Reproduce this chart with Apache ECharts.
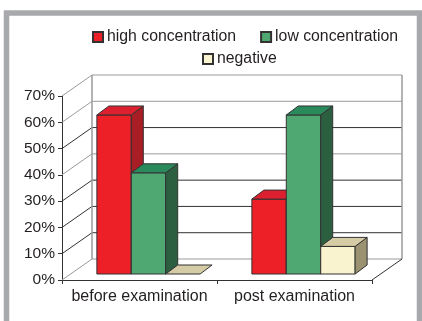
<!DOCTYPE html>
<html>
<head>
<meta charset="utf-8">
<title>concentration</title>
<style>
html,body{margin:0;padding:0;background:#fff;}
#chart{width:422px;height:321px;}
</style>
<script src="https://cdn.jsdelivr.net/npm/echarts@6/dist/echarts.min.js"></script>
</head>
<body>
<div id="chart"></div>
<script>
var categories = ['before examination', 'post examination'];
var highConcentration = [60.5, 28.5];
var lowConcentration = [38.5, 60.5];
var negative = [0, 10.5];
var yTicks = [0, 10, 20, 30, 40, 50, 60, 70];

var textColor = '#231f20';
var lineDark = '#333132';
var lineGray = '#9a9a9c';
var fontName = '"Liberation Sans", Arial, sans-serif';

// wall and floor lines, one item per tick
function renderWall(params, api) {
    var v = api.value(0);
    var cs = params.coordSys;
    var y = api.coord([0, v])[1];
    var dx = 30, dy = -21;
    var left = cs.x, right = cs.x + cs.width;
    var color = (v === 0 || v === 70 || v === 60 || v === 40) ? lineGray : lineDark;
    var children = [
        {type: 'polyline', shape: {points: [[left, y], [left + dx, y + dy], [right + dx, y + dy]]},
            style: {fill: null, stroke: color, lineWidth: 1}}
    ];
    if (v === 0) {
        children.push({type: 'line', shape: {x1: right, y1: y, x2: right + dx, y2: y + dy},
            style: {stroke: lineDark, lineWidth: 1}});
    }
    if (v === 70) {
        var y0 = api.coord([0, 0])[1];
        children.push({type: 'line', shape: {x1: left + dx, y1: y + dy, x2: left + dx, y2: y0 + dy},
            style: {stroke: lineGray, lineWidth: 1.5}});
        children.push({type: 'line', shape: {x1: right + dx, y1: y + dy, x2: right + dx, y2: y0 + dy},
            style: {stroke: lineGray, lineWidth: 1.5}});
    }
    return {type: 'group', children: children};
}

function makeBarRenderer(slot, topColor, sideColor) {
    return function (params, api) {
        var top = api.coord([api.value(0), api.value(1)]);
        var base = api.coord([api.value(0), 0]);
        var w = api.size([1, 0])[0] * 0.222;
        var shiftX = 9, shiftY = -6, dx = 12, dy = -9;
        var x = top[0] + shiftX + (slot - 1.5) * w;
        var y1 = top[1] + shiftY;
        var y0 = base[1] + shiftY;
        var edge = {stroke: lineDark, lineWidth: 1, lineJoin: 'round'};
        var children = [];
        if (y0 > y1) {
            children.push({type: 'rect', shape: {x: x, y: y1, width: w, height: y0 - y1},
                style: Object.assign({fill: api.visual('color')}, edge)});
            children.push({type: 'polygon',
                shape: {points: [[x + w, y1], [x + w + dx, y1 + dy], [x + w + dx, y0 + dy], [x + w, y0]]},
                style: Object.assign({fill: sideColor}, edge)});
        }
        children.push({type: 'polygon',
            shape: {points: [[x, y1], [x + w, y1], [x + w + dx, y1 + dy], [x + dx, y1 + dy]]},
            style: Object.assign({fill: topColor}, edge)});
        return {type: 'group', children: children};
    };
}

function barData(values) {
    return values.map(function (v, i) { return [i, v]; });
}

function barSeries(name, values, slot, front, top, side) {
    return {
        name: name,
        type: 'custom',
        coordinateSystem: 'cartesian2d',
        clip: false,
        z: 3,
        itemStyle: {color: front, borderColor: lineDark, borderWidth: 1},
        encode: {x: 0, y: 1},
        renderItem: makeBarRenderer(slot, top, side),
        data: barData(values)
    };
}

var legendText = {color: textColor, fontSize: 15.8, fontFamily: fontName, padding: [0, 0, 0, -1]};

var myChart = echarts.init(document.getElementById('chart'));
var option = {
    animation: false,
    backgroundColor: '#fff',
    graphic: [
        {type: 'polyline', z: 0, shape: {points: [[6.5, 321], [6.5, 13], [419.5, 13], [419.5, 321]]},
            style: {fill: null, stroke: '#a7a9ac', lineWidth: 5.5}}
    ],
    legend: [
        {
            left: 87, top: 24, itemWidth: 10, itemHeight: 10, itemGap: 24, icon: 'rect',
            textStyle: legendText, selectedMode: false,
            data: ['high concentration', 'low concentration']
        },
        {
            left: 197, top: 46, itemWidth: 10, itemHeight: 10, icon: 'rect',
            textStyle: legendText, selectedMode: false,
            data: ['negative']
        }
    ],
    grid: {left: 62, right: 50, top: 96, bottom: 41},
    xAxis: {
        type: 'category',
        data: categories,
        axisLine: {lineStyle: {color: lineDark, width: 1}},
        axisTick: {show: true, length: 4, interval: 0, lineStyle: {color: lineDark}},
        axisLabel: {color: textColor, fontSize: 16, fontFamily: fontName, margin: 9, interval: 0, hideOverlap: false},
        splitLine: {show: false}
    },
    yAxis: {
        type: 'value',
        min: yTicks[0],
        max: yTicks[yTicks.length - 1],
        interval: 10,
        axisLine: {show: true, lineStyle: {color: lineDark, width: 1}},
        axisTick: {show: true, length: 4, lineStyle: {color: lineDark}},
        axisLabel: {color: textColor, fontSize: 15.5, fontFamily: fontName, margin: 7, padding: [2, 0, 0, 0], formatter: '{value}%'},
        splitLine: {show: false}
    },
    series: [
        {
            name: 'walls',
            type: 'custom',
            coordinateSystem: 'cartesian2d',
            clip: false,
            z: 1,
            silent: true,
            encode: {y: 0},
            renderItem: renderWall,
            data: yTicks.map(function (t) { return [t]; })
        },
        barSeries('high concentration', highConcentration, 0, '#ed2028', '#dc2030', '#a81e24'),
        barSeries('low concentration', lowConcentration, 1, '#4fa771', '#2a8a5b', '#2b5f40'),
        barSeries('negative', negative, 2, '#f9f3cf', '#d5cba5', '#9a9270')
    ]
};
myChart.setOption(option);
</script>
</body>
</html>
